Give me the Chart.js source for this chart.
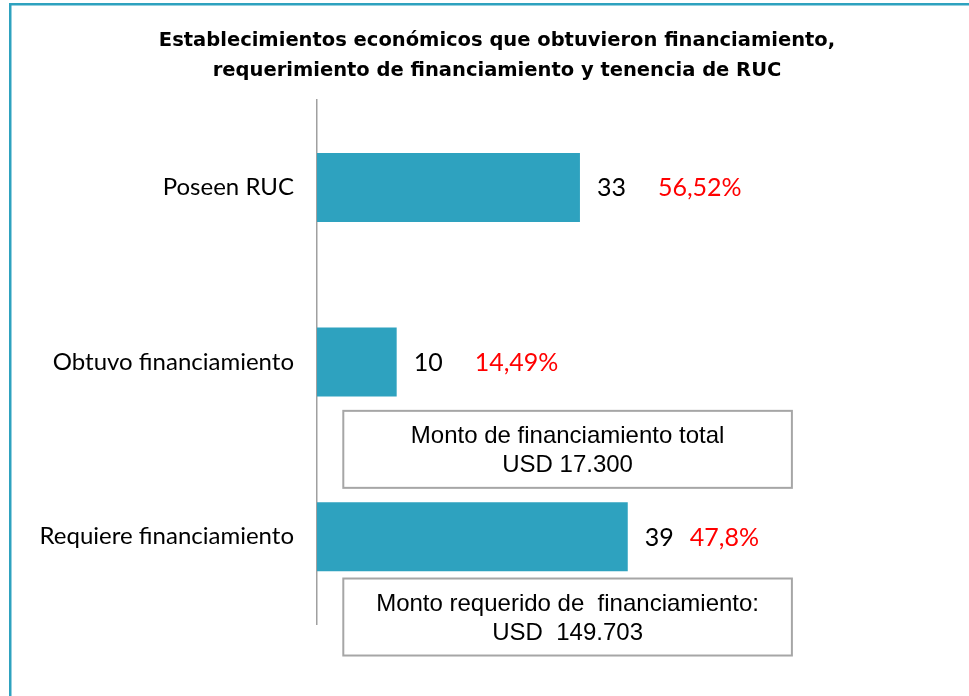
<!DOCTYPE html>
<html>
<head>
<meta charset="utf-8">
<script src="https://cdn.jsdelivr.net/npm/chart.js@4"></script>
<style>
  html, body { margin: 0; padding: 0; background: #fff; }
  .wrap { width: 969px; height: 696px; position: relative; }
</style>
</head>
<body>
<div class="wrap"><canvas id="chart"></canvas></div>
<script>
const categories = ["Poseen RUC", "Obtuvo financiamiento", "Requiere financiamiento"];
const counts = [33, 10, 39];
const percentLabels = ["56,52%", "14,49%", "47,8%"];
const noteLines = [
  ["Monto de financiamiento total", "USD 17.300"],
  ["Monto requerido de  financiamiento:", "USD  149.703"],
];
const titleLines = [
  "Establecimientos económicos que obtuvieron financiamiento,",
  "requerimiento de financiamiento y tenencia de RUC",
];

const teal = "#2EA2BF";
const labelFont = "Lato, 'Noto Sans', sans-serif";

// frame lines (top + left only)
const framePlugin = {
  id: "frame",
  beforeDraw(chart) {
    const ctx = chart.ctx;
    ctx.save();
    ctx.fillStyle = "#fff";
    ctx.fillRect(0, 0, chart.width, chart.height);
    ctx.fillStyle = teal;
    ctx.fillRect(9, 3, chart.width - 9, 2.5);
    ctx.fillRect(9, 3, 2.5, chart.height - 3);
    ctx.restore();
  },
};

// value + percent next to each bar
const pctGap = [32, 32, 16];
const valueLabels = {
  id: "valueLabels",
  afterDatasetsDraw(chart) {
    const ctx = chart.ctx;
    const meta = chart.getDatasetMeta(0);
    ctx.save();
    ctx.font = "25px " + labelFont;
    ctx.textBaseline = "middle";
    ctx.textAlign = "left";
    meta.data.forEach((bar, i) => {
      const x = bar.x + 17;
      ctx.fillStyle = "#000";
      const txt = String(counts[i]);
      ctx.fillText(txt, x, bar.y + 1);
      const w = ctx.measureText(txt).width;
      ctx.fillStyle = "#FF0000";
      ctx.fillText(percentLabels[i], x + w + pctGap[i], bar.y + 1);
    });
    ctx.restore();
  },
};

// boxed notes under bars 2 and 3
const notePos = [1.5, 2.46];
const notesPlugin = {
  id: "notes",
  afterDraw(chart) {
    const ctx = chart.ctx;
    const xs = chart.scales.x, ys = chart.scales.y;
    const left = xs.getPixelForValue(3.3);
    const right = xs.getPixelForValue(59.6);
    ctx.save();
    noteLines.forEach((lines, i) => {
      const cy = ys.getPixelForValue(notePos[i]);
      const top = cy - 38.5;
      ctx.fillStyle = "#fff";
      ctx.fillRect(left, top, right - left, 77);
      ctx.strokeStyle = "#A6A6A6";
      ctx.lineWidth = 2;
      ctx.strokeRect(left, top, right - left, 77);
      ctx.fillStyle = "#000";
      ctx.font = "24px 'Liberation Sans', Arial, sans-serif";
      ctx.textAlign = "center";
      ctx.textBaseline = "middle";
      lines.forEach((t, j) => {
        ctx.fillText(t, (left + right) / 2, top + 26 + j * 29);
      });
    });
    ctx.restore();
  },
};

new Chart(document.getElementById("chart"), {
  type: "bar",
  data: {
    labels: categories,
    datasets: [
      {
        data: counts,
        backgroundColor: teal,
        borderWidth: 0,
        categoryPercentage: 1,
        barPercentage: 0.395,
      },
    ],
  },
  options: {
    indexAxis: "y",
    responsive: true,
    maintainAspectRatio: false,
    animation: false,
    layout: {
      padding: { top: 0, left: 30, right: 5, bottom: 72 },
    },
    plugins: {
      legend: { display: false },
      tooltip: { enabled: false },
      title: {
        display: true,
        text: titleLines,
        color: "#000",
        font: { family: "'DejaVu Sans', sans-serif", size: 19.5, weight: "bold", lineHeight: 1.54 },
        padding: { top: 26, bottom: 14 },
      },
    },
    scales: {
      x: {
        display: false,
        min: 0,
        max: 81.2,
      },
      y: {
        afterFit(scale) {
          scale.width = 287;
        },
        grid: { display: false },
        border: { display: true, color: "#A0A0A0", width: 1.5 },
        ticks: {
          color: "#000",
          padding: 15,
          font: { family: labelFont, size: 24 },
        },
      },
    },
  },
  plugins: [framePlugin, valueLabels, notesPlugin],
});
</script>
</body>
</html>
